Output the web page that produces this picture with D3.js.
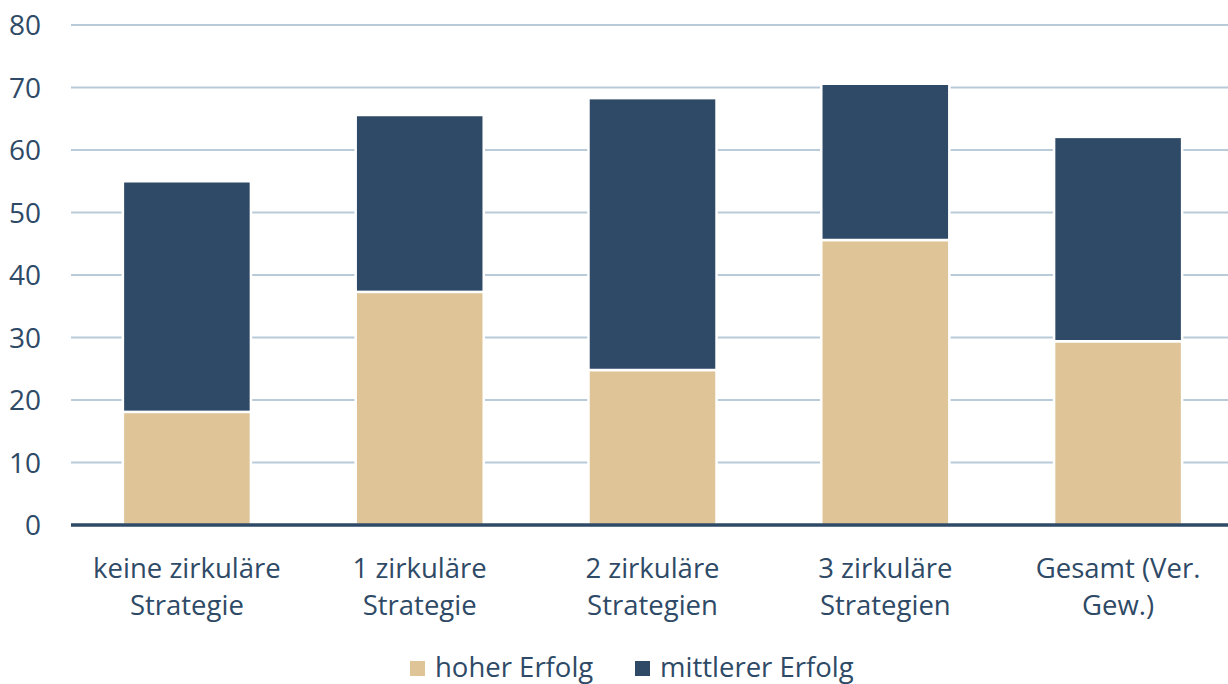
<!DOCTYPE html>
<html><head><meta charset="utf-8">
<script src="https://cdn.jsdelivr.net/npm/d3@7"></script>
<style>body{margin:0;background:#fff;} text{font-family:"Open Sans",sans-serif;fill:#2e4a66;}</style>
</head><body>
<svg id="c" width="1228" height="684"></svg>
<script>
const categories = [["keine zirkuläre","Strategie"],["1 zirkuläre","Strategie"],["2 zirkuläre","Strategien"],["3 zirkuläre","Strategien"],["Gesamt (Ver.","Gew.)"]];
const hoher = [18.1, 37.3, 24.8, 45.6, 29.4];
const mittlerer = [36.9, 28.3, 43.5, 25.0, 32.7];
const yTicks = [0,10,20,30,40,50,60,70,80];
const seriesNames = ["hoher Erfolg","mittlerer Erfolg"];
const colors = ["#dfc497","#2f4a66"];

const svg = d3.select("#c");
const x = d3.scaleBand().domain(d3.range(categories.length)).range([70.5,1234.5]).paddingInner(0.45).paddingOuter(0.225);
const y = d3.scaleLinear().domain([0,80]).range([525,25]);

// gridlines
svg.append("g").selectAll("line").data(yTicks.slice(1)).join("line")
  .attr("x1",71).attr("x2",1228).attr("y1",d=>y(d)).attr("y2",d=>y(d))
  .attr("stroke","#b9cad9").attr("stroke-width",2);

// y tick labels
svg.append("g").selectAll("text").data(yTicks).join("text")
  .attr("x",41).attr("y",d=>y(d)+10).attr("text-anchor","end")
  .style("font-size","28px").text(d=>d);

const stack = d3.stack().keys([0,1])(categories.map((c,i)=>[hoher[i],mittlerer[i]]));
svg.append("g").selectAll("g").data(stack).join("g").attr("fill",(d,i)=>colors[i])
  .selectAll("rect").data(d=>d.map((v,i)=>({v,i}))).join("rect")
  .attr("x",d=>x(d.i)).attr("width",x.bandwidth())
  .attr("y",d=>y(d.v[1])).attr("height",d=>y(d.v[0])-y(d.v[1]))
  .attr("stroke","#fff").attr("stroke-width",2.5);

// baseline
svg.append("line").attr("x1",71).attr("x2",1228).attr("y1",y(0)).attr("y2",y(0))
  .attr("stroke","#2f4a66").attr("stroke-width",3.5);

// x labels
const xl = svg.append("g").selectAll("text").data(categories).join("text")
  .attr("x",(d,i)=>x(i)+x.bandwidth()/2).attr("y",578).attr("text-anchor","middle")
  .style("font-size","27.5px");
xl.selectAll("tspan").data(d=>d).join("tspan").attr("x",function(){return this.parentNode.getAttribute("x");})
  .attr("dy",(d,i)=>i?37:0).text(d=>d);

// legend
const legX = [410, 635];
const lg = svg.append("g").selectAll("g").data(seriesNames).join("g");
lg.append("rect").attr("x",(d,i)=>legX[i]).attr("y",661).attr("width",15).attr("height",15).attr("fill",(d,i)=>colors[i]);
lg.append("text").attr("x",(d,i)=>legX[i]+25).attr("y",677).style("font-size","27.5px").text(d=>d);
</script>
</body></html>
